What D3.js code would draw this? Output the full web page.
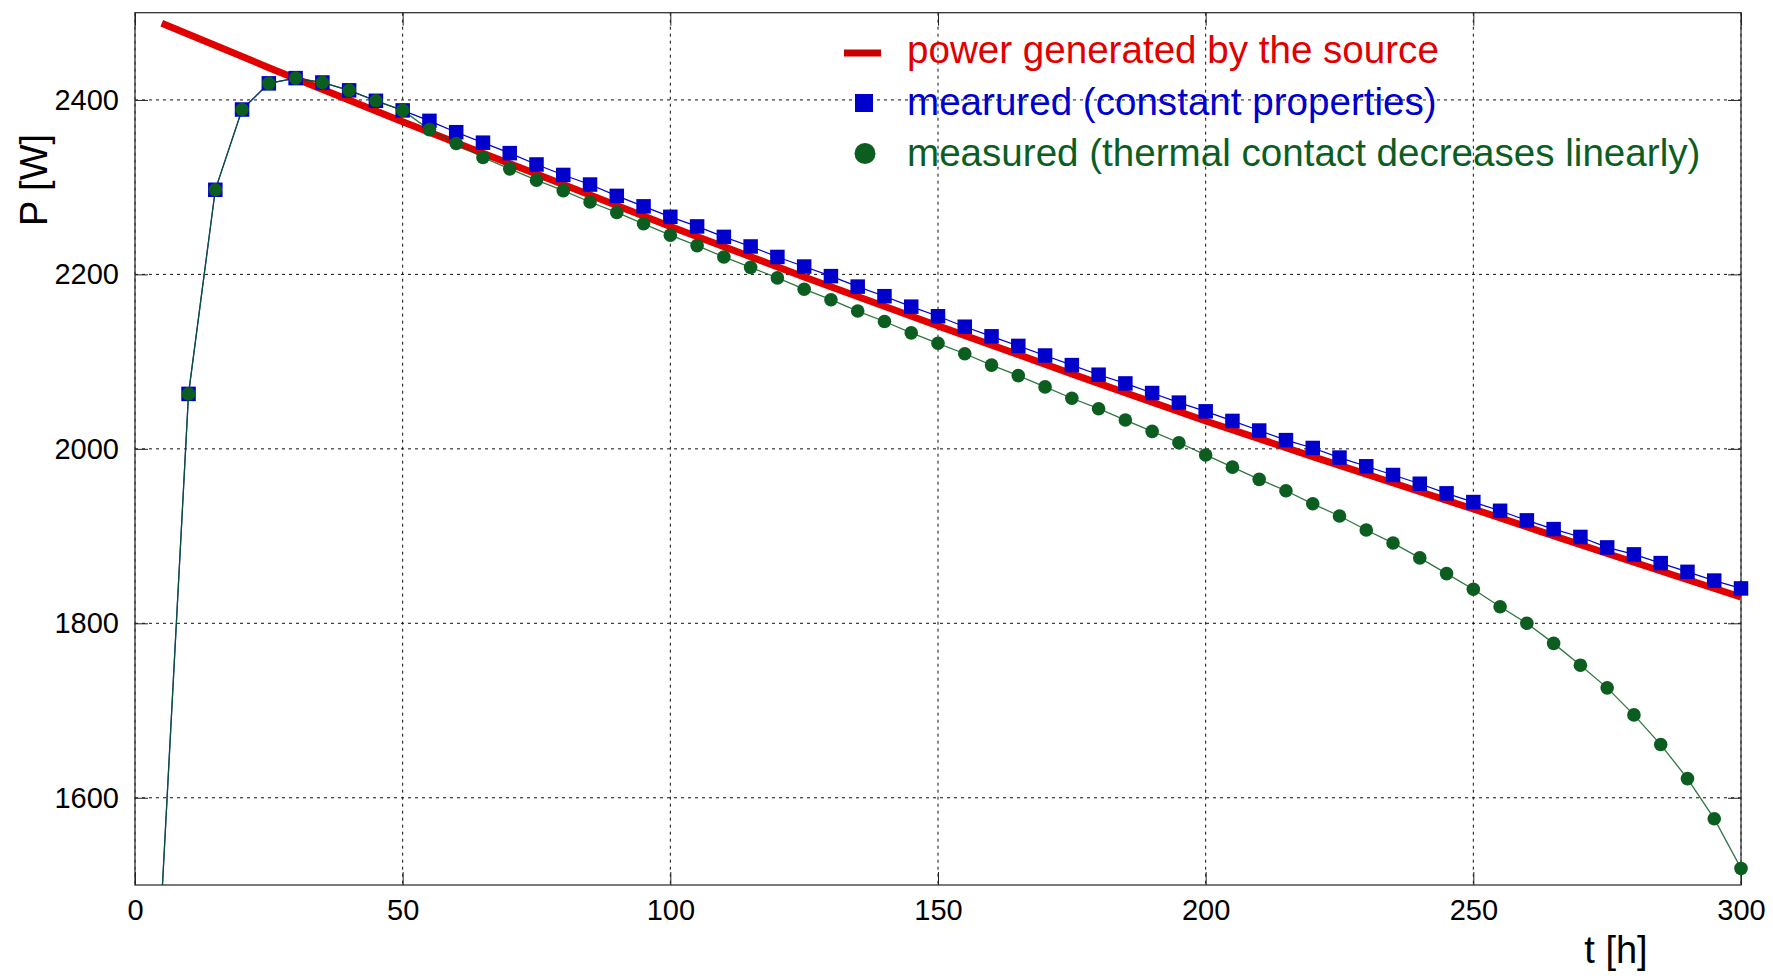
<!DOCTYPE html>
<html>
<head>
<meta charset="utf-8">
<script src="https://cdn.jsdelivr.net/npm/d3@7"></script>
<style>
body { margin: 0; background: #fff; }
svg text { font-family: "Liberation Sans", Arial, sans-serif; }
</style>
</head>
<body>
<svg id="chart" width="1773" height="976"></svg>
<script>
// measurement times [h]
var hours = [5, 10, 15, 20, 25, 30, 35, 40, 45, 50,
    55, 60, 65, 70, 75, 80, 85, 90, 95, 100,
    105, 110, 115, 120, 125, 130, 135, 140, 145, 150,
    155, 160, 165, 170, 175, 180, 185, 190, 195, 200,
    205, 210, 215, 220, 225, 230, 235, 240, 245, 250,
    255, 260, 265, 270, 275, 280, 285, 290, 295, 300];

// measured, constant properties [W]
var constantProps = [1485, 2063, 2297, 2389, 2419, 2425, 2420, 2411, 2399, 2388,
    2376, 2363, 2351, 2339, 2326, 2314, 2303, 2290, 2278, 2266,
    2255, 2243, 2232, 2220, 2209, 2198, 2186, 2175, 2163, 2152,
    2140, 2129, 2118, 2107, 2096, 2085, 2075, 2064, 2053, 2043,
    2032, 2021, 2010, 2001, 1990, 1980, 1970, 1960, 1949, 1939,
    1929, 1918, 1908, 1899, 1887, 1879, 1869, 1859, 1849, 1840];

// measured, thermal contact decreases linearly [W]
var thermalContact = [1485, 2063, 2297, 2389, 2419, 2425, 2420, 2411, 2399, 2388,
    2366, 2350, 2334, 2321, 2308, 2296, 2283, 2271, 2258, 2245,
    2233, 2220, 2208, 2196, 2183, 2171, 2158, 2146, 2133, 2121,
    2109, 2096, 2084, 2071, 2058, 2046, 2033, 2020, 2007, 1993,
    1979, 1965, 1952, 1937, 1923, 1907, 1892, 1875, 1857, 1839,
    1819, 1800, 1777, 1752, 1726, 1695, 1661, 1622, 1576, 1519];

// power generated by the source [W]
var sourceHours = [5, 25, 50, 75, 100, 125, 150, 175, 200, 225, 250, 275, 300];
var sourcePower = [2488, 2437, 2375, 2315, 2255, 2197, 2141, 2086, 2032, 1981, 1931, 1880, 1830];

var xTicks = [0, 50, 100, 150, 200, 250, 300];
var yTicks = [1600, 1800, 2000, 2200, 2400];
var legendLabels = ["power generated by the source",
    "mearured (constant properties)",
    "measured (thermal contact decreases linearly)"];

(function() {
    var svg = d3.select("#chart");
    var left = 135, right = 1741, top = 12.7, bottom = 885;
    var red = "#e00000", blue = "#0000cc", green = "#0b5e1f";

    var x = d3.scaleLinear().domain([0, 300]).range([left, right]);
    var y = d3.scaleLinear().domain([1500, 2500]).range([bottom, top]);

    svg.append("defs").append("clipPath").attr("id", "plot-clip")
        .append("rect")
        .attr("x", left).attr("y", top)
        .attr("width", right - left).attr("height", bottom - top);

    // grid
    var grid = svg.append("g").attr("class", "grid")
        .attr("stroke", "#111").attr("stroke-width", 1)
        .attr("stroke-dasharray", "3,4");
    grid.selectAll(".gx").data(xTicks).enter().append("line")
        .attr("x1", function(d) { return x(d); })
        .attr("x2", function(d) { return x(d); })
        .attr("y1", top).attr("y2", bottom);
    grid.selectAll(".gy").data(yTicks).enter().append("line")
        .attr("x1", left).attr("x2", right)
        .attr("y1", function(d) { return y(d); })
        .attr("y2", function(d) { return y(d); });

    // frame with inward ticks on all sides
    svg.append("rect")
        .attr("x", left).attr("y", top)
        .attr("width", right - left).attr("height", bottom - top)
        .attr("fill", "none").attr("stroke", "#333").attr("stroke-width", 1.3);

    var fmt = d3.format("d");
    svg.append("g")
        .attr("transform", "translate(0," + bottom + ")")
        .call(d3.axisBottom(x).tickValues(xTicks).tickSize(-13).tickPadding(14).tickFormat(fmt))
        .call(function(g) {
            g.select(".domain").remove();
            g.selectAll("line").attr("stroke", "#222");
            g.selectAll("text").attr("font-size", "29px").attr("fill", "#000");
        });
    svg.append("g")
        .attr("transform", "translate(0," + top + ")")
        .call(d3.axisTop(x).tickValues(xTicks).tickSize(-13).tickFormat(""))
        .call(function(g) {
            g.select(".domain").remove();
            g.selectAll("line").attr("stroke", "#222");
        });
    svg.append("g")
        .attr("transform", "translate(" + left + ",0)")
        .call(d3.axisLeft(y).tickValues(yTicks).tickSize(-13).tickPadding(16).tickFormat(fmt))
        .call(function(g) {
            g.select(".domain").remove();
            g.selectAll("line").attr("stroke", "#222");
            g.selectAll("text").attr("font-size", "29px").attr("fill", "#000");
        });
    svg.append("g")
        .attr("transform", "translate(" + right + ",0)")
        .call(d3.axisRight(y).tickValues(yTicks).tickSize(-13).tickFormat(""))
        .call(function(g) {
            g.select(".domain").remove();
            g.selectAll("line").attr("stroke", "#222");
        });

    // axis titles
    svg.append("text")
        .attr("transform", "translate(47,180) rotate(-90)")
        .attr("text-anchor", "middle")
        .attr("font-size", "38px")
        .text("P [W]");
    svg.append("text")
        .attr("x", 1616).attr("y", 963)
        .attr("text-anchor", "middle")
        .attr("font-size", "38px")
        .text("t [h]");

    var plot = svg.append("g").attr("clip-path", "url(#plot-clip)");

    // source curve
    var sourceLine = d3.line()
        .x(function(d, i) { return x(sourceHours[i]); })
        .y(function(d) { return y(d); })
        .curve(d3.curveMonotoneX);
    plot.append("path")
        .attr("d", sourceLine(sourcePower))
        .attr("fill", "none").attr("stroke", red).attr("stroke-width", 7);

    var measLine = d3.line()
        .x(function(d, i) { return x(hours[i]); })
        .y(function(d) { return y(d); });

    plot.append("path")
        .attr("d", measLine(constantProps))
        .attr("fill", "none").attr("stroke", blue).attr("stroke-width", 1.2);

    var inRange = function(v) { return v >= 1500 && v <= 2500; };
    var sq = 14.5;
    svg.append("g").selectAll("rect")
        .data(constantProps.map(function(v, i) { return [hours[i], v]; }).filter(function(d) { return inRange(d[1]); }))
        .enter().append("rect")
        .attr("x", function(d) { return x(d[0]) - sq / 2; })
        .attr("y", function(d) { return y(d[1]) - sq / 2; })
        .attr("width", sq).attr("height", sq)
        .attr("fill", blue);

    plot.append("path")
        .attr("d", measLine(thermalContact))
        .attr("fill", "none").attr("stroke", green).attr("stroke-width", 1.3)
        .attr("stroke-opacity", 0.85);

    svg.append("g").selectAll("circle")
        .data(thermalContact.map(function(v, i) { return [hours[i], v]; }).filter(function(d) { return inRange(d[1]); }))
        .enter().append("circle")
        .attr("cx", function(d) { return x(d[0]); })
        .attr("cy", function(d) { return y(d[1]); })
        .attr("r", 6.8)
        .attr("fill", green);

    // legend
    var legend = svg.append("g").attr("class", "legend");
    legend.append("line")
        .attr("x1", 844).attr("x2", 881).attr("y1", 53).attr("y2", 53)
        .attr("stroke", "#c80000").attr("stroke-width", 7);
    legend.append("rect")
        .attr("x", 855).attr("y", 94).attr("width", 18).attr("height", 18)
        .attr("fill", blue);
    legend.append("circle")
        .attr("cx", 865).attr("cy", 153.5).attr("r", 10.5)
        .attr("fill", green);

    var legendColors = [red, blue, green];
    var legendY = [63, 115, 166];
    for (var i = 0; i < legendLabels.length; i++) {
        legend.append("text")
            .attr("x", 907).attr("y", legendY[i])
            .attr("font-size", "38.6px")
            .attr("fill", legendColors[i])
            .text(legendLabels[i]);
    }
})();
</script>
</body>
</html>
